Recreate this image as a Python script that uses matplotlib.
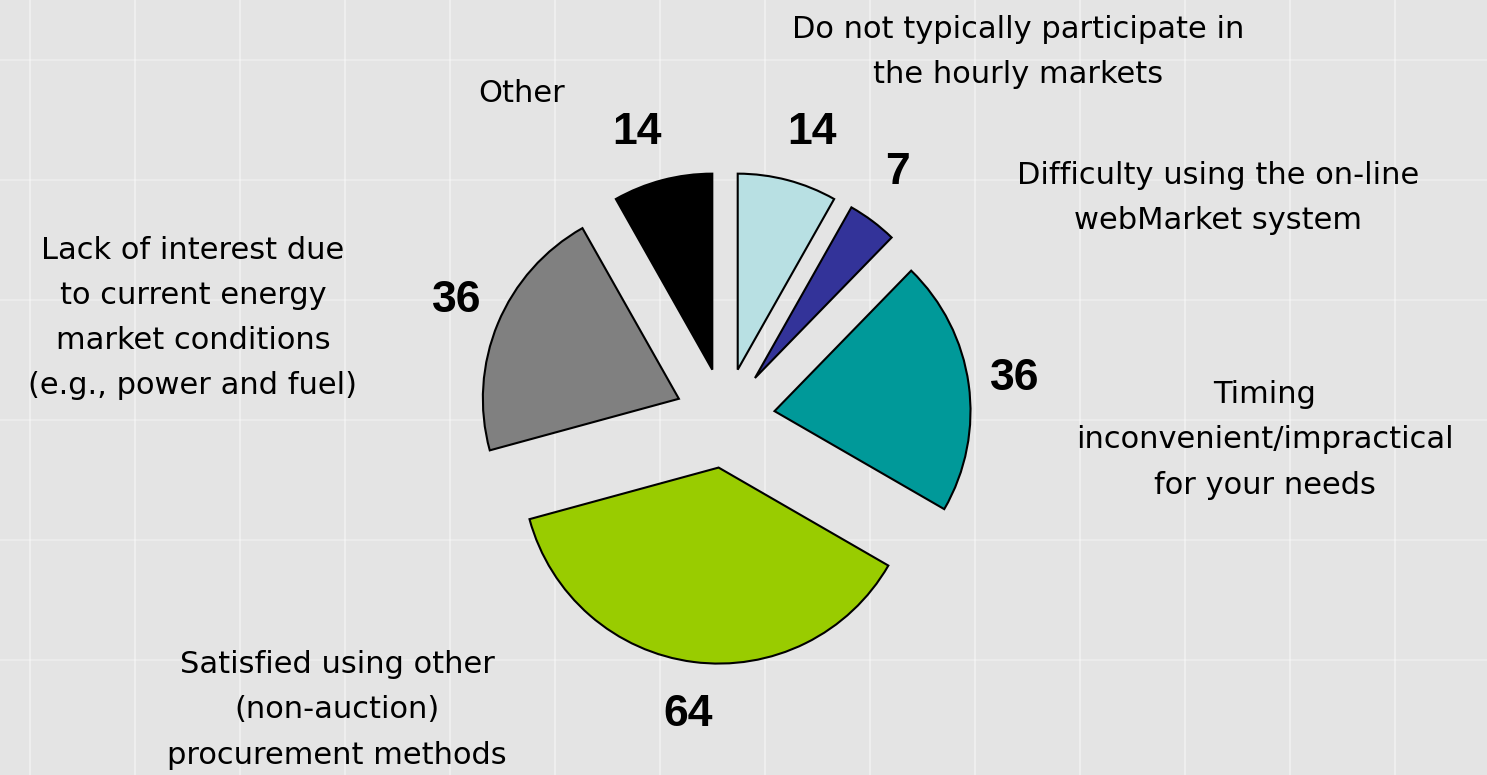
import matplotlib
matplotlib.use("Agg")
import matplotlib.pyplot as plt
import numpy as np

# reasons for not participating, clockwise from 12 o'clock
categories = [
    "Do not typically participate in\nthe hourly markets",
    "Difficulty using the on-line\nwebMarket system",
    "Timing\ninconvenient/impractical\nfor your needs",
    "Satisfied using other\n(non-auction)\nprocurement methods",
    "Lack of interest due\nto current energy\nmarket conditions\n(e.g., power and fuel)",
    "Other",
]
counts = [14, 7, 36, 64, 36, 14]
colors = ["#B8E0E3", "#333399", "#009999", "#99CC00", "#808080", "#000000"]

# label placement in figure pixels (x, y from top)
name_pos = [(1018, 52), (1218, 198), (1265, 440), (337, 710), (193, 318), (522, 93)]
value_pos = [(812, 133), (897, 172), (1015, 378), (688, 714), (457, 300), (637, 133)]

W, H = 1487, 775
fig = plt.figure(figsize=(W / 100, H / 100), dpi=100)
fig.patch.set_facecolor("#e4e4e4")

# faint background grid, like the stock chart behind the original
bg = fig.add_axes([0, 0, 1, 1])
bg.set_xlim(0, W)
bg.set_ylim(H, 0)
bg.axis("off")
for x in np.arange(30, W, 105):
    bg.axvline(x, color="white", lw=1.2, alpha=0.45)
for y in np.arange(60, H, 120):
    bg.axhline(y, color="white", lw=1.2, alpha=0.35)

# pie axes: centre at (725, 418) px, radius 196 px
cx, cy, r = 725, 418, 196
half = 300
ax = fig.add_axes([(cx - half) / W, (H - cy - half) / H, 2 * half / W, 2 * half / H])
ax.pie(counts, colors=colors, startangle=90, counterclock=False,
       explode=[0.255] * len(counts),
       wedgeprops=dict(edgecolor="black", linewidth=1.5))
lim = half / r
ax.set_xlim(-lim, lim)
ax.set_ylim(-lim, lim)
ax.axis("off")

for name, (x, y) in zip(categories, name_pos):
    fig.text(x / W, 1 - y / H, name, ha="center", va="center",
             fontsize=22, family="DejaVu Sans", linespacing=1.7)

for v, (x, y) in zip(counts, value_pos):
    fig.text(x / W, 1 - y / H, str(v), ha="center", va="center",
             fontsize=32, fontweight="bold", family="Liberation Sans")

fig.savefig("out.png", dpi=100, facecolor=fig.get_facecolor())
